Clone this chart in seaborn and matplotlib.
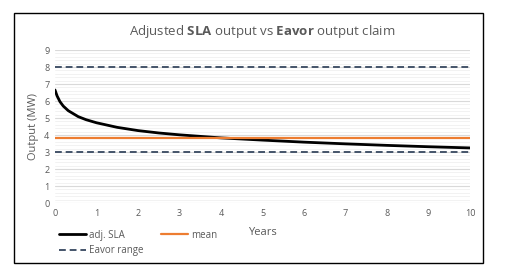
import numpy as np
import pandas as pd
import matplotlib
matplotlib.use("Agg")
import matplotlib.pyplot as plt
import seaborn as sns
from matplotlib.patches import Rectangle

# valores
years = [0, 0.05, 0.12, 0.2, 0.32, 0.56, 0.75, 1, 1.5, 2, 2.5, 3, 4, 5, 6, 7, 8, 9, 10]
adj_sla = [6.65, 6.3, 5.96, 5.7, 5.43, 5.08, 4.9, 4.72, 4.45, 4.26, 4.12, 4.01, 3.83, 3.7, 3.58, 3.48, 3.39, 3.31, 3.24]
mean_val = 3.85
eavor_low = 3.0
eavor_high = 8.0

df = pd.DataFrame({"Years": years, "adj. SLA": adj_sla})

sns.set_style("white")
plt.rcParams["font.family"] = ["Open Sans", "DejaVu Sans"]
plt.rcParams["mathtext.fontset"] = "custom"
plt.rcParams["mathtext.rm"] = "Open Sans"
plt.rcParams["mathtext.bf"] = "Open Sans:bold"

fig = plt.figure(figsize=(5.06, 2.73), dpi=100)
ax = fig.add_axes([0.1087, 0.2564, 0.8202, 0.5604])

gris = "#595959"

sns.lineplot(data=df, x="Years", y="adj. SLA", ax=ax, color="black", lw=2.0, label="adj. SLA")
ax.axhline(mean_val, color="#ED7D31", lw=1.6, label="mean")
ax.axhline(eavor_high, color="#44546A", lw=1.4, ls=(0, (3.5, 2)), label="Eavor range")
ax.axhline(eavor_low, color="#44546A", lw=1.4, ls=(0, (3.5, 2)))

ax.set_xlim(0, 10)
ax.set_ylim(0, 9)
ax.set_xticks(range(0, 11))
ax.set_yticks(range(0, 10))
ax.set_yticks(np.arange(0, 9, 0.2), minor=True)
ax.grid(True, axis="y", which="major", color="#D9D9D9", lw=0.8)
ax.grid(True, axis="y", which="minor", color="#F0F0F0", lw=0.6)
ax.set_axisbelow(True)
for s in ax.spines.values():
    s.set_visible(False)
ax.tick_params(axis="both", which="both", length=0, labelsize=6.5, labelcolor=gris, pad=4)

ax.set_xlabel("Years", fontsize=8, color=gris, labelpad=7)
ax.set_ylabel("Output (MW)", fontsize=8, color=gris, labelpad=4)

ax.set_title(r"Adjusted $\bf{SLA}$ output vs $\bf{Eavor}$ output claim",
             fontsize=9.5, color=gris, pad=11)

# orden: columna 1 -> adj. SLA, Eavor range ; columna 2 -> mean
handles, labels = ax.get_legend_handles_labels()
orden = [0, 2, 1]
ax.get_legend().remove()
fig.legend([handles[i] for i in orden], [labels[i] for i in orden], ncol=2,
           loc="upper left", bbox_to_anchor=(0.1, 0.19),
           frameon=False, fontsize=7, handlelength=2.7, handletextpad=0.3,
           columnspacing=1.9, labelspacing=0.45, labelcolor=gris)

fig.patches.append(Rectangle((0.0277, 0.0366), 0.927, 0.9157, transform=fig.transFigure,
                             fill=False, edgecolor="black", lw=1.0))

fig.savefig("out.png", dpi=100)
